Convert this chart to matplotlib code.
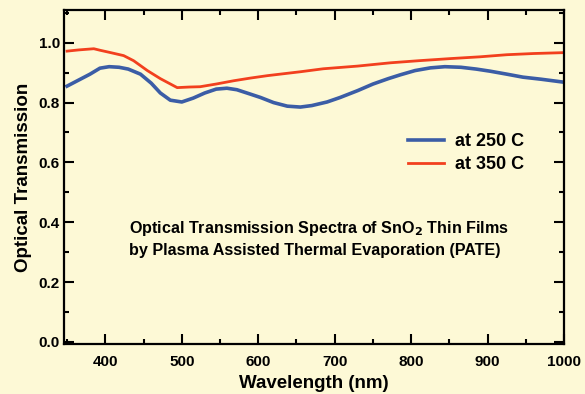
import matplotlib
matplotlib.use("Agg")
import matplotlib.pyplot as plt
from matplotlib.ticker import MultipleLocator

plt.rcParams["font.family"] = ["Liberation Sans", "DejaVu Sans"]
plt.rcParams["font.weight"] = "bold"

# Data
wl_250 = [350, 365, 380, 393, 405, 418, 430, 446, 460, 472, 485, 500, 515, 530,
          545, 559, 572, 590, 603, 620, 638, 655, 670, 690, 707, 730, 750, 770,
          786, 805, 825, 844, 865, 885, 903, 925, 946, 970, 1000]
t_250 = [0.855, 0.875, 0.895, 0.915, 0.92, 0.918, 0.912, 0.895, 0.865, 0.832,
         0.808, 0.802, 0.815, 0.832, 0.845, 0.848, 0.843, 0.828, 0.817, 0.8,
         0.788, 0.785, 0.79, 0.802, 0.817, 0.84, 0.862, 0.88, 0.893, 0.907,
         0.916, 0.92, 0.918, 0.912, 0.905, 0.895, 0.885, 0.878, 0.868]

wl_350 = [350, 365, 385, 393, 407, 424, 437, 455, 472, 494, 510, 524, 545, 568,
          590, 612, 635, 655, 685, 730, 773, 810, 851, 890, 925, 960, 1000]
t_350 = [0.972, 0.976, 0.98, 0.975, 0.967, 0.957, 0.94, 0.907, 0.88, 0.85,
         0.852, 0.853, 0.862, 0.873, 0.882, 0.89, 0.897, 0.903, 0.913, 0.922,
         0.933, 0.94, 0.947, 0.953, 0.96, 0.964, 0.967]

labels = ["at 250 C", "at 350 C"]
colors = ["#3B5DA6", "#F2401E"]
bg = "#FDF9D6"

fig = plt.figure(figsize=(5.85, 3.94), dpi=100, facecolor=bg)
ax = fig.add_axes([0.1094, 0.127, 0.855, 0.848], facecolor=bg)

ax.plot(wl_250, t_250, color=colors[0], lw=2.6, label=labels[0])
ax.plot(wl_350, t_350, color=colors[1], lw=2.0, label=labels[1])

ax.set_xlim(346, 1000)
ax.set_ylim(-0.007, 1.11)
ax.xaxis.set_minor_locator(MultipleLocator(50))
ax.yaxis.set_minor_locator(MultipleLocator(0.1))
ax.set_yticks([0.0, 0.2, 0.4, 0.6, 0.8, 1.0])
ax.set_xticks([400, 500, 600, 700, 800, 900, 1000])

ax.tick_params(which="both", direction="in", top=True, right=True, width=1.5,
               labelsize=11)
ax.tick_params(axis="x", pad=8)
ax.tick_params(axis="y", pad=3)
ax.tick_params(which="major", length=7)
ax.tick_params(which="minor", length=3.5)
for s in ax.spines.values():
    s.set_linewidth(1.6)

ax.set_xlabel("Wavelength (nm)", fontsize=13.5, fontweight="bold", labelpad=4)
ax.set_ylabel("Optical Transmission", fontsize=13.5, fontweight="bold", labelpad=5)

ax.legend(loc="upper left", bbox_to_anchor=(0.655, 0.68), frameon=False,
          fontsize=13, handlelength=2.0, handletextpad=0.6, labelspacing=0.35)

ax.text(0.13, 0.315, "Optical Transmission Spectra of SnO$_\\mathbf{2}$ Thin Films\n"
        "by Plasma Assisted Thermal Evaporation (PATE)",
        transform=ax.transAxes, fontsize=11.6, fontweight="bold",
        linespacing=1.45, va="center")

fig.savefig("out.png", dpi=100, facecolor=bg)
